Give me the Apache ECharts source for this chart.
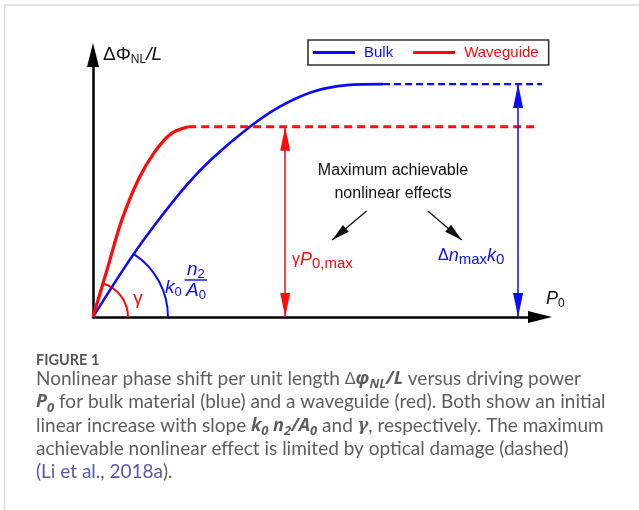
<!DOCTYPE html>
<html>
<head>
<meta charset="utf-8">
<script src="https://cdn.jsdelivr.net/npm/echarts@6/dist/echarts.min.js"></script>
<style>
  html, body { margin: 0; padding: 0; background: #fff; }
  #chart { width: 639px; height: 510px; }
</style>
</head>
<body>
<div id="chart"></div>
<script>
// bulk material (blue): rise then damage limit (dashed)
const bulkPower = [0, 8.2, 13.8, 21.0, 26.8, 35.1, 41.8, 49.2, 56.8, 64.9];
const bulkPhase = [0, 21.8, 35.1, 50.4, 60.7, 72.6, 80.3, 86.0, 88.5, 88.9];
const bulkLimitPower = [64.9, 100.7];
const bulkLimit = 88.9;

// waveguide (red)
const wgPower = [0, 3.4, 6.3, 10.1, 13.8, 17.5, 21.3];
const wgPhase = [0, 19.5, 36.3, 52.3, 63.0, 70.0, 72.6];
const wgLimitPower = [21.3, 99.3];
const wgLimit = 72.6;

// double arrows for the max effect + the two pointer arrows
const wgArrowX = 43.0;
const bulkArrowX = 95.1;
const pointerFrom = [[61.2, 40.5], [74.9, 40.5]];
const pointerTo = [[53.5, 29.4], [82.5, 29.4]];

const BLUE = '#0a0aff';
const RED = '#ff0a0a';
const FONT = '"Liberation Sans", Arial, sans-serif';
const CAP = 'Lato, "Noto Sans", sans-serif';
const CAP_COLOR = '#5e5e5e';

const zip = (xs, ys) => xs.map((x, i) => [x, ys[i]]);

function txt(x, y, text, opts) {
  return {
    type: 'text', x: x, y: y, silent: true,
    style: Object.assign({
      text: text, fontFamily: FONT, fontSize: 16, fill: '#111',
      align: 'left', verticalAlign: 'middle'
    }, opts)
  };
}

// rich styles for math-ish labels in the plot
function mathRich(color, main, sub) {
  return {
    r: { fontFamily: FONT, fontSize: main - 2, fill: color, lineHeight: 22 },
    i: { fontFamily: FONT, fontSize: main, fontStyle: 'italic', fill: color, lineHeight: 22 },
    s: { fontFamily: FONT, fontSize: sub, fill: color, lineHeight: 14, verticalAlign: 'bottom' }
  };
}

const capRich = {
  d: { fontFamily: '"Noto Sans"', fontSize: 17, fill: CAP_COLOR, lineHeight: 24 },
  m: { fontFamily: '"Noto Sans"', fontSize: 18, fontStyle: 'italic', fontWeight: 'bold', fill: CAP_COLOR, lineHeight: 24 },
  s: { fontFamily: '"Noto Sans"', fontSize: 13, fontStyle: 'italic', fontWeight: 'bold', fill: CAP_COLOR, lineHeight: 13, verticalAlign: 'bottom' },
  g: { fontFamily: '"DejaVu Serif"', fontSize: 16, fontStyle: 'italic', fontWeight: 'bold', fill: CAP_COLOR, lineHeight: 24 },
  a: { fontFamily: CAP, fontSize: 19, fill: '#5b58a8', lineHeight: 24 }
};

const captionLines = [
  'Nonlinear phase shift per unit length {d|Δ}{m|φ}{s|NL}{m|/L} versus driving power',
  '{m|P}{s|0} for bulk material (blue) and a waveguide (red). Both show an initial',
  'linear increase with slope {m|k}{s|0}{m| n}{s|2}{m|/A}{s|0} and {g|γ}, respectively. The maximum',
  'achievable nonlinear effect is limited by optical damage (dashed)',
  '{a|(Li et al., 2018a}).'
];
const captionY = [379, 402.3, 425.6, 448.9, 472.2];

function arcItem(color, radius) {
  return function (params, api) {
    const o = api.coord([0, 0]);
    const p = api.coord([api.value(0), api.value(1)]);
    const ang = Math.atan2(p[1] - o[1], p[0] - o[0]);
    return {
      type: 'arc',
      shape: { cx: o[0], cy: o[1], r: radius, startAngle: ang, endAngle: 0, clockwise: true },
      style: { stroke: color, lineWidth: 2, fill: null }
    };
  };
}

const graphics = [
  { type: 'line', silent: true, shape: { x1: 4, y1: 5, x2: 639, y2: 5 }, style: { stroke: '#dadada', lineWidth: 1.5 } },
  { type: 'line', silent: true, shape: { x1: 4.5, y1: 5, x2: 4.5, y2: 510 }, style: { stroke: '#dadada', lineWidth: 1.5 } },
  txt(103, 55, '{r|ΔΦ}{s|NL}{i|/L}', { rich: {
    r: { fontFamily: FONT, fontSize: 19, fill: '#111', lineHeight: 22 },
    i: { fontFamily: FONT, fontSize: 19, fontStyle: 'italic', fill: '#111', lineHeight: 22 },
    s: { fontFamily: FONT, fontSize: 12, fill: '#111', lineHeight: 13, verticalAlign: 'bottom' }
  } }),
  txt(546, 299, '{i|P}{s|0}', { rich: mathRich('#111', 18, 12) }),
  txt(393, 182.5, 'Maximum achievable\nnonlinear effects', { align: 'center', lineHeight: 23 }),
  txt(292, 260, '{r|γ}{i|P}{s|0,max}', { rich: mathRich(RED, 18, 15) }),
  txt(438, 256, '{r|Δ}{i|n}{s|max}{i|k}{s|0}', { rich: mathRich(BLUE, 18, 15) }),
  txt(138, 299, 'γ', { fill: RED, fontSize: 19, align: 'center' }),
  txt(165, 288, '{i|k}{s|0}', { rich: mathRich(BLUE, 19, 13) }),
  txt(187, 270, '{i|n}{s|2}', { rich: mathRich(BLUE, 19, 13) }),
  { type: 'line', silent: true, shape: { x1: 184.5, y1: 280, x2: 207, y2: 280 }, style: { stroke: BLUE, lineWidth: 1.4 } },
  txt(186, 291, '{i|A}{s|0}', { rich: mathRich(BLUE, 19, 13) }),
  txt(36, 360, 'FIGURE 1', { fontFamily: CAP, fontSize: 14.5, fontWeight: 'bold', fill: '#555' })
].concat(captionLines.map((line, i) =>
  txt(36, captionY[i], line, { fontFamily: CAP, fontSize: 19, fill: CAP_COLOR, lineHeight: 24, rich: capRich })
));

const arrowLine = (color, x, top) => ({
  silent: true,
  symbol: ['triangle', 'triangle'],
  symbolSize: [10, 24],
  symbolOffset: [[0, 12], [0, 12]],
  label: { show: false },
  emphasis: { disabled: true },
  lineStyle: { color: color, width: 1.5, type: 'solid' },
  data: [[{ coord: [x, 0] }, { coord: [x, top] }]]
});

const axisCommon = {
  type: 'value', min: 0, max: 100,
  axisLine: {
    show: true, onZero: false,
    symbol: ['none', 'triangle'], symbolSize: [12, 24],
    lineStyle: { color: '#000', width: 2.5 }
  },
  axisTick: { show: false },
  axisLabel: { show: false },
  splitLine: { show: false }
};

const chart = echarts.init(document.getElementById('chart'));
chart.setOption({
  animation: false,
  backgroundColor: '#fff',
  grid: { left: 93, top: 55, right: 99, bottom: 193, outerBoundsMode: 'none' },
  xAxis: axisCommon,
  yAxis: axisCommon,
  legend: {
    left: 308, top: 40,
    selectedMode: false,
    icon: 'rect',
    itemWidth: 42, itemHeight: 3, itemGap: 20,
    padding: [5, 10, 5, 5],
    borderColor: '#333', borderWidth: 1.6,
    backgroundColor: '#fff',
    textStyle: { fontFamily: FONT, fontSize: 15, padding: [0, 0, 0, 4] },
    data: [
      { name: 'Bulk', textStyle: { color: BLUE } },
      { name: 'Waveguide', textStyle: { color: RED } }
    ]
  },
  graphic: graphics,
  series: [
    {
      name: 'Bulk', type: 'line', data: zip(bulkPower, bulkPhase),
      smooth: 0.35, symbol: 'none', lineStyle: { color: BLUE, width: 2.6 }, itemStyle: { color: BLUE }
    },
    {
      name: 'Waveguide', type: 'line', data: zip(wgPower, wgPhase),
      smooth: 0.3, symbol: 'none', lineStyle: { color: RED, width: 3.2 }, itemStyle: { color: RED }
    },
    {
      name: 'bulkLimit', type: 'line', clip: false, symbol: 'none',
      data: bulkLimitPower.map(x => [x, bulkLimit]),
      lineStyle: { color: BLUE, width: 2.2, type: [7, 4] },
      markLine: arrowLine(BLUE, bulkArrowX, bulkLimit)
    },
    {
      name: 'wgLimit', type: 'line', clip: false, symbol: 'none',
      data: wgLimitPower.map(x => [x, wgLimit]),
      lineStyle: { color: RED, width: 3, type: [8, 5] },
      markLine: arrowLine(RED, wgArrowX, wgLimit)
    },
    {
      name: 'pointers', type: 'line', data: [], symbol: 'none',
      markLine: {
        silent: true,
        symbol: ['none', 'triangle'],
        symbolSize: [9, 18],
        symbolOffset: [[0, 0], [0, 9]],
        label: { show: false },
        emphasis: { disabled: true },
        lineStyle: { color: '#111', width: 1.3, type: 'solid' },
        data: pointerFrom.map((p, i) => [{ coord: p }, { coord: pointerTo[i] }])
      }
    },
    {
      name: 'wgSlope', type: 'custom', silent: true,
      data: [[wgPower[1], wgPhase[1]]],
      renderItem: arcItem(RED, 35)
    },
    {
      name: 'bulkSlope', type: 'custom', silent: true,
      data: [[bulkPower[1], bulkPhase[1]]],
      renderItem: arcItem(BLUE, 75)
    }
  ]
});
</script>
</body>
</html>
